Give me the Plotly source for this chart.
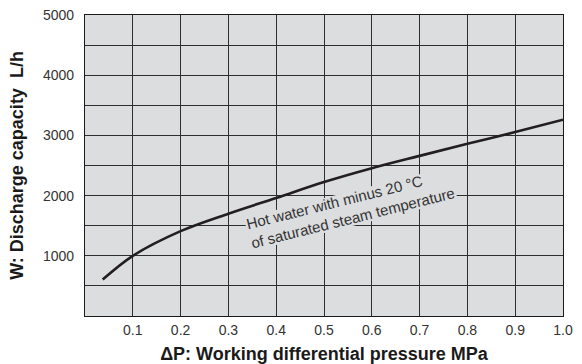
import math
import plotly.graph_objects as go

# Discharge capacity curve: hot water 20 °C below saturated steam temperature
pressure_mpa = [0.037, 0.1, 0.2, 0.3, 0.4, 0.5, 0.6, 0.7, 0.8, 0.9, 1.0]
capacity_lph = [605, 1000, 1410, 1700, 1960, 2225, 2455, 2660, 2860, 3055, 3260]

x_tick_values = [0.1, 0.2, 0.3, 0.4, 0.5, 0.6, 0.7, 0.8, 0.9, 1.0]
x_tick_labels = ["0.1", "0.2", "0.3", "0.4", "0.5", "0.6", "0.7", "0.8", "0.9", "1.0"]
y_tick_values = [1000, 2000, 3000, 4000, 5000]
y_tick_labels = ["1000", "2000", "3000", "4000", "5000"]

curve_note = "Hot water with minus 20 °C<br>of saturated steam temperature"

FONT = "Liberation Sans, Arial, Helvetica, sans-serif"
GRID = "#2e2e2e"
PANEL = "#dcdddf"

W, H = 582, 364
M = dict(l=85, r=19, t=15, b=48)
X_RANGE = [0, 1.0]
Y_RANGE = [0, 5000]
px_per_x = (W - M["l"] - M["r"]) / (X_RANGE[1] - X_RANGE[0])
px_per_y = (H - M["t"] - M["b"]) / (Y_RANGE[1] - Y_RANGE[0])

# note placement (data units) and its tilt
note_x, note_y, note_angle = 0.556, 1780, 14

fig = go.Figure()
fig.add_trace(go.Scatter(
    x=pressure_mpa,
    y=capacity_lph,
    mode="lines",
    line=dict(color="#231f20", width=2.6, shape="spline", smoothing=1.0),
    hoverinfo="skip",
    showlegend=False,
))

# panel-coloured patch under the note so grid lines stop around the text
half_w, half_h = 106, 17
t = math.radians(note_angle)
corners = []
for u, v in [(-half_w, -half_h), (half_w, -half_h), (half_w, half_h), (-half_w, half_h)]:
    dx = u * math.cos(t) + v * math.sin(t)
    dy = -u * math.sin(t) + v * math.cos(t)
    corners.append((note_x + dx / px_per_x, note_y - dy / px_per_y))
path = "M " + " L ".join(f"{cx:.4f},{cy:.1f}" for cx, cy in corners) + " Z"
fig.add_shape(type="path", path=path, xref="x", yref="y",
              fillcolor=PANEL, line=dict(width=0), layer="between")

fig.add_annotation(
    x=note_x, y=note_y, xref="x", yref="y",
    text=curve_note,
    showarrow=False,
    textangle=-note_angle,
    align="left",
    font=dict(family=FONT, size=15, color="#333333"),
)

fig.update_layout(
    width=W, height=H,
    margin=M,
    paper_bgcolor="white",
    plot_bgcolor=PANEL,
    font=dict(family=FONT, color="#333333"),
)

fig.update_xaxes(
    range=X_RANGE,
    automargin=False,
    tickvals=x_tick_values,
    ticktext=x_tick_labels,
    ticks="outside", ticklen=1, tickcolor="rgba(0,0,0,0)",
    tickfont=dict(size=14, color="#333333"),
    showgrid=True, gridcolor=GRID, gridwidth=1,
    showline=True, linecolor="#1a1a1a", linewidth=1.2, mirror=True,
    zeroline=False,
    title=dict(text="ΔP: Working differential pressure MPa",
               font=dict(size=18, color="#1a1a1a", family=FONT, weight="bold"),
               standoff=12),
)

fig.update_yaxes(
    range=Y_RANGE,
    automargin=False,
    tickvals=y_tick_values,
    ticktext=y_tick_labels,
    ticks="outside", ticklen=7, tickcolor="rgba(0,0,0,0)",
    tickfont=dict(size=14, color="#333333"),
    showgrid=True, gridcolor=GRID, gridwidth=1,
    minor=dict(dtick=500, showgrid=True, gridcolor=GRID, gridwidth=1),
    showline=True, linecolor="#1a1a1a", linewidth=1.2, mirror=True,
    zeroline=False,
    title=dict(text="W: Discharge capacity  L/h",
               font=dict(size=18, color="#1a1a1a", family=FONT, weight="bold"),
               standoff=14),
)

fig.write_html("out.html")
